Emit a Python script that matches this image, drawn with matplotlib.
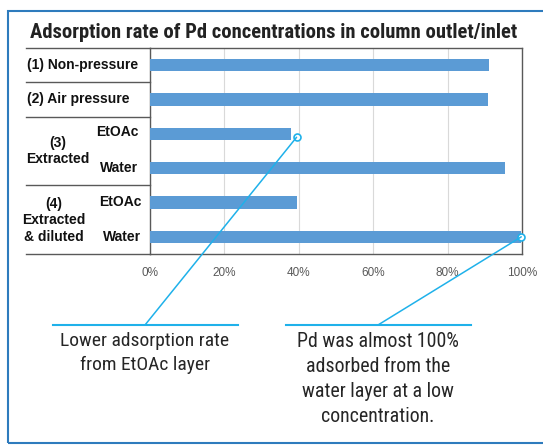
import numpy as np
import matplotlib
matplotlib.use('Agg')
import matplotlib.pyplot as plt
from matplotlib import font_manager
from matplotlib.patches import ConnectionPatch, Rectangle
from matplotlib.lines import Line2D

# Адсорбция Pd: доля (выход/вход колонки) для каждого варианта
rows = ['(1) Non-pressure', '(2) Air pressure', 'EtOAc', 'Water', 'EtOAc', 'Water']
values = [0.912, 0.908, 0.378, 0.955, 0.394, 0.998]
ticks = [0, 0.2, 0.4, 0.6, 0.8, 1.0]
tick_labels = ['0%', '20%', '40%', '60%', '80%', '100%']
groups = ['(3)\nExtracted', '(4)\nExtracted\n& diluted']

title = 'Adsorption rate of Pd concentrations in column outlet/inlet'
note_left = 'Lower adsorption rate\nfrom EtOAc layer'
note_right = 'Pd was almost 100%\nadsorbed from the\nwater layer at a low\nconcentration.'

# узкий шрифт, если есть; иначе обычный с подгонкой размера
installed = {f.name for f in font_manager.fontManager.ttflist}
narrow = 'Liberation Sans'
for name in ['Liberation Sans Narrow', 'Arial Narrow', 'Roboto Condensed', 'Open Sans Condensed']:
    if name in installed:
        narrow = name
        break
plt.rcParams['font.family'] = ['Liberation Sans', 'DejaVu Sans']

W, H = 543, 445
bar_color = '#5b9bd5'
call_color = '#1fb1ea'


def px(x, y):
    return (x / W, 1 - y / H)


def fit_width(t, width_px, renderer):
    # подбираем кегль под нужную ширину первой строки
    first = t.get_text().split('\n')[0]
    probe = fig.text(0, 0, first, fontsize=t.get_fontsize(), family=t.get_fontfamily(),
                     fontweight=t.get_fontweight())
    w = probe.get_window_extent(renderer).width
    probe.remove()
    t.set_fontsize(t.get_fontsize() * width_px / w)


fig = plt.figure(figsize=(W / 100, H / 100), dpi=100)
ax = fig.add_axes([150 / W, 1 - 254 / H, (522 - 150) / W, (254 - 48) / H])

y = np.arange(len(rows))
ax.barh(y, values, height=0.35, color=bar_color, zorder=3)
ax.set_xlim(0, 1)
ax.set_ylim(len(rows) - 0.5, -0.5)
ax.set_xticks(ticks)
ax.set_xticklabels(tick_labels, color='#595959', fontsize=8.5)
ax.set_yticks([])
ax.tick_params(axis='x', length=0, pad=9)
ax.grid(axis='x', color='#d9d9d9', lw=0.8, zorder=0)
for s in ax.spines.values():
    s.set_color('#595959')
    s.set_linewidth(1)

# таблица подписей слева от осей
yt = ax.get_yaxis_transform()
left = (26 - 150) / (522 - 150)
for b in [-0.5, 0.5, 1.5, 3.5, 5.5]:
    ax.plot([left, 0], [b, b], color='#595959', lw=1, transform=yt, clip_on=False)

lab_kw = dict(transform=yt, fontsize=10, fontweight='bold', color='#111111', va='center')
for i in range(2):
    ax.text(left + 0.003, i, rows[i], ha='left', **lab_kw)
ax.text(-0.032, 1.95, rows[2], ha='right', **lab_kw)
ax.text(-0.033, 3, rows[3], ha='right', **lab_kw)
ax.text(-0.024, 3.98, rows[4], ha='right', **lab_kw)
ax.text(-0.024, 5, rows[5], ha='right', **lab_kw)
ax.text((58 - 150) / 372, 2.5, groups[0], ha='center', multialignment='center', **lab_kw)
ax.text((54 - 150) / 372, 4.52, groups[1], ha='center', multialignment='center', **lab_kw)

renderer = fig.canvas.get_renderer()

t_title = fig.text(*px(274, 32), title, ha='center', va='center', fontsize=14,
                   fontweight='bold', family=narrow, color='#222222')
fit_width(t_title, 490, renderer)

# выноски
for (vx, vy), end in [((0.394, 2.1), px(145, 325)), ((values[5], 5), px(378, 325))]:
    con = ConnectionPatch(xyA=(vx, vy), coordsA=ax.transData, xyB=end,
                          coordsB=fig.transFigure, color=call_color, lw=1.1)
    fig.add_artist(con)
    ax.plot(vx, vy, 'o', ms=5, mfc='white', mec=call_color, mew=1.2,
            clip_on=False, zorder=5)

for x0, x1 in [(53, 238), (286, 471)]:
    fig.add_artist(Line2D([x0 / W, x1 / W], [1 - 325 / H] * 2, color=call_color,
                          lw=1.5, transform=fig.transFigure))

for xc, txt, wpx in [(145, note_left, 168), (378, note_right, 162)]:
    t = fig.text(*px(xc, 332), txt, ha='center', va='top', fontsize=14.5,
                 family=narrow, color='#262626')
    fit_width(t, wpx, renderer)
    # шаг строк ~25.7 px
    t.set_linespacing(1.12 * 25 / (t.get_fontsize() * 100 / 72))

# рамка слайда
fig.add_artist(Rectangle(px(8, 443), (W + 10) / W, (443 - 11) / H,
                         transform=fig.transFigure, fill=False,
                         edgecolor='#2e7bbd', lw=1.5))

fig.savefig('out.png', dpi=100)
